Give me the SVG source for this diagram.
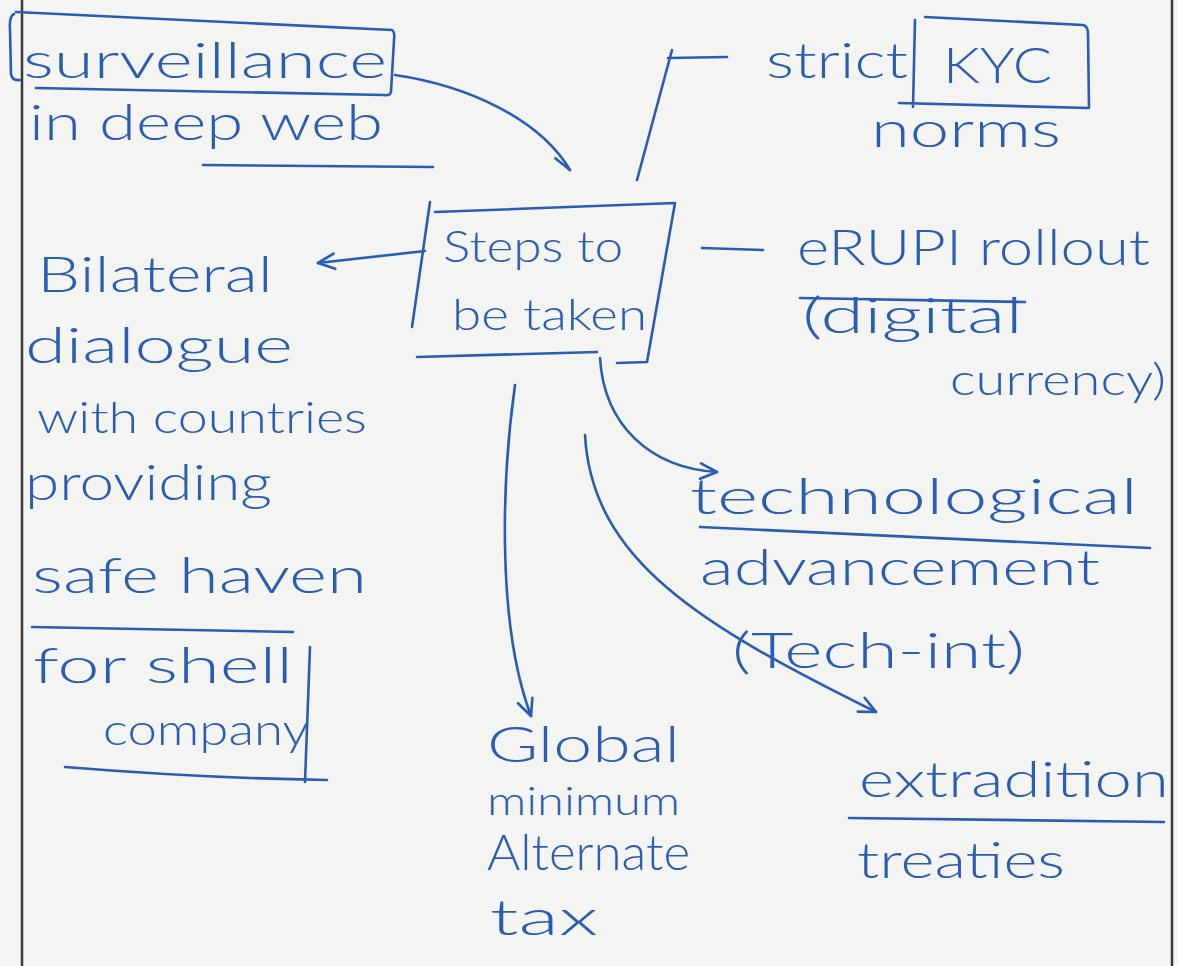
<svg xmlns="http://www.w3.org/2000/svg" width="1178" height="966" viewBox="0 0 1178 966">
  <style>
    .ink { fill: none; stroke: #2b5cb4; stroke-width: 2.6; stroke-linecap: round; stroke-linejoin: round; }
    .txt { font-family: "Lato", "Liberation Sans", sans-serif; font-weight: 300; font-size: 50px; fill: #2b5cb4; }
    .sm { font-size: 44px; }
    .xs { font-size: 40px; }
    .margin { stroke: #3a3a3a; stroke-width: 2.5; }
  </style>
  <defs>
    <marker id="head" viewBox="0 0 20 20" refX="18" refY="10" markerWidth="22" markerHeight="22" markerUnits="userSpaceOnUse" orient="auto">
      <path d="M3,3 L18,10 L3,17" fill="none" stroke="#2b5cb4" stroke-width="2.4" stroke-linecap="round" stroke-linejoin="round"/>
    </marker>
    <marker id="hook" viewBox="0 0 20 20" refX="18" refY="10" markerWidth="22" markerHeight="22" markerUnits="userSpaceOnUse" orient="auto">
      <path d="M2,16 L18,10" fill="none" stroke="#2b5cb4" stroke-width="2.4" stroke-linecap="round"/>
    </marker>
  </defs>

  <!-- paper and ruled margins -->
  <rect width="1178" height="966" fill="#f4f4f2"/>
  <line class="margin" x1="22" y1="0" x2="22" y2="966"/>
  <line class="margin" x1="1172" y1="0" x2="1172" y2="966"/>

  <!-- connectors -->
  <g id="connectors">
    <path class="ink" d="M395,75 C470,86 540,120 570,170" marker-end="url(#hook)"/>
    <path class="ink" d="M727,57 L668,58 M672,50 L637,180"/>
    <path class="ink" d="M425,251 L318,263" marker-end="url(#head)"/>
    <path class="ink" d="M702,248 L763,250"/>
    <path class="ink" d="M600,358 C604,425 650,468 717,472" marker-end="url(#head)"/>
    <path class="ink" d="M585,435 C592,560 700,625 876,712" marker-end="url(#head)"/>
    <path class="ink" d="M515,385 C503,470 495,620 531,716" marker-end="url(#head)"/>
  </g>

  <!-- central topic -->
  <g id="steps">
    <path class="ink" d="M430,202 L412,327 M435,212 L675,203 L647,362 L617,363 M417,357 L597,352"/>
    <text class="txt sm" x="443" y="262" textLength="180" lengthAdjust="spacingAndGlyphs">Steps to</text>
    <text class="txt sm" x="452" y="330" textLength="195" lengthAdjust="spacingAndGlyphs">be taken</text>
  </g>

  <g id="surveillance">
    <path class="ink" d="M16,12 L392,30 Q395,32 394,40 L391,92 Q390,96 384,95 L36,88 M14,14 Q9,16 10,30 L11,74 Q12,81 20,80"/>
    <text class="txt" x="23" y="78" textLength="364" lengthAdjust="spacingAndGlyphs">surveillance</text>
    <text class="txt" x="29" y="140" textLength="354" lengthAdjust="spacingAndGlyphs">in deep web</text>
    <path class="ink" d="M203,165 L433,167"/>
  </g>

  <g id="kyc">
    <path class="ink" d="M915,20 L913,107 M925,17 L1083,25 Q1088,26 1088,34 L1089,107 M899,103 L1089,108"/>
    <text class="txt" x="766" y="78" textLength="142" lengthAdjust="spacingAndGlyphs">strict</text>
    <text class="txt" x="943" y="83" textLength="109" lengthAdjust="spacingAndGlyphs">KYC</text>
    <text class="txt" x="871" y="147" textLength="190" lengthAdjust="spacingAndGlyphs">norms</text>
  </g>

  <g id="bilateral">
    <text class="txt" x="37" y="292" textLength="236" lengthAdjust="spacingAndGlyphs">Bilateral</text>
    <text class="txt" x="25" y="363" textLength="268" lengthAdjust="spacingAndGlyphs">dialogue</text>
    <text class="txt sm" x="37" y="433" textLength="330" lengthAdjust="spacingAndGlyphs">with countries</text>
    <text class="txt" x="25" y="500" textLength="247" lengthAdjust="spacingAndGlyphs">providing</text>
    <text class="txt" x="32" y="593" textLength="335" lengthAdjust="spacingAndGlyphs">safe haven</text>
    <path class="ink" d="M32,627 L293,632"/>
    <text class="txt" x="33" y="683" textLength="260" lengthAdjust="spacingAndGlyphs">for shell</text>
    <path class="ink" d="M310,647 L305,782"/>
    <text class="txt sm" x="103" y="745" textLength="206" lengthAdjust="spacingAndGlyphs">company</text>
    <path class="ink" d="M65,767 Q200,778 327,780"/>
  </g>

  <g id="erupi">
    <text class="txt" x="797" y="265" textLength="353" lengthAdjust="spacingAndGlyphs">eRUPI rollout</text>
    <path class="ink" d="M800,298 L1025,302"/>
    <text class="txt" x="802" y="333" textLength="221" lengthAdjust="spacingAndGlyphs">(digital</text>
    <text class="txt sm" x="950" y="395" textLength="216" lengthAdjust="spacingAndGlyphs">currency)</text>
  </g>

  <g id="technological">
    <text class="txt" x="690" y="514" textLength="448" lengthAdjust="spacingAndGlyphs">technological</text>
    <path class="ink" d="M700,527 Q900,536 1150,548"/>
    <text class="txt" x="700" y="585" textLength="400" lengthAdjust="spacingAndGlyphs">advancement</text>
    <text class="txt" x="732" y="668" textLength="293" lengthAdjust="spacingAndGlyphs">(Tech-int)</text>
  </g>

  <g id="global-tax">
    <text class="txt" x="487" y="762" textLength="193" lengthAdjust="spacingAndGlyphs">Global</text>
    <text class="txt xs" x="487" y="815" textLength="193" lengthAdjust="spacingAndGlyphs">minimum</text>
    <text class="txt" x="487" y="870" textLength="203" lengthAdjust="spacingAndGlyphs">Alternate</text>
    <text class="txt" x="490" y="935" textLength="108" lengthAdjust="spacingAndGlyphs">tax</text>
  </g>

  <g id="extradition">
    <text class="txt" x="859" y="797" textLength="310" lengthAdjust="spacingAndGlyphs">extradition</text>
    <path class="ink" d="M849,818 L1164,822"/>
    <text class="txt" x="857" y="878" textLength="208" lengthAdjust="spacingAndGlyphs">treaties</text>
  </g>
</svg>
